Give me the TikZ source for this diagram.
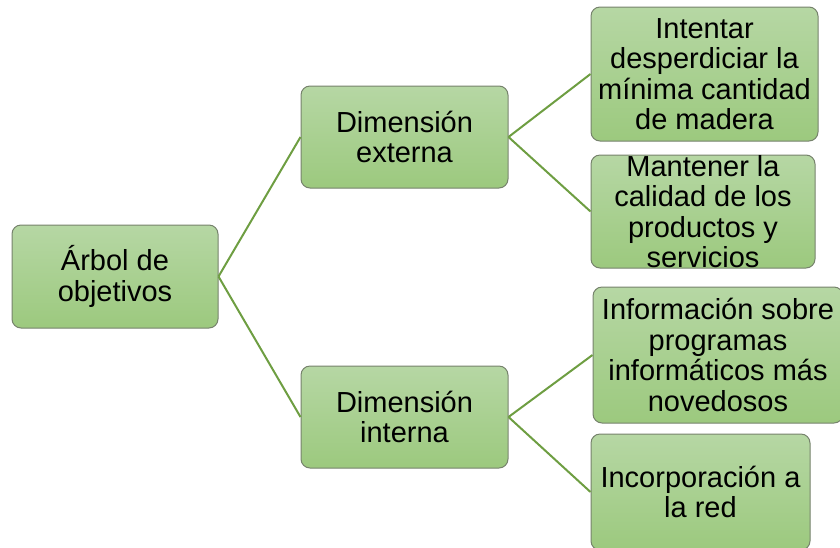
\documentclass[tikz,border=0pt]{standalone}
\usepackage{fontspec}
\setmainfont{Liberation Sans}
\definecolor{boxtop}{RGB}{182,215,164}
\definecolor{boxbot}{RGB}{156,201,126}
\definecolor{boxline}{RGB}{118,130,108}
\definecolor{link}{RGB}{110,158,66}
\begin{document}
\begin{tikzpicture}[x=1pt,y=-1pt,
  box/.style={rectangle, rounded corners=9pt, draw=boxline, line width=1pt,
    top color=boxtop, bottom color=boxbot, inner sep=0pt, align=center,
    font=\fontsize{29}{30.5}\selectfont},
  link/.style={draw=link, line width=2pt}]
\useasboundingbox (0,0) rectangle (840,547);
\clip (0,0) rectangle (840,547);
\node[box, minimum width=206pt, minimum height=103pt] (root) at (115,276.5) {Árbol de\\objetivos};
\node[box, minimum width=207pt, minimum height=102pt] (ext) at (404.5,137) {Dimensión\\externa};
\node[box, minimum width=207pt, minimum height=102pt] (int) at (404.5,417) {Dimensión\\interna};
\node[box, minimum width=227pt, minimum height=134pt] (l1) at (704.5,74) {Intentar\\desperdiciar la\\mínima cantidad\\de madera};
\node[box, minimum width=224pt, minimum height=113pt] (l2) at (703,211.5) {Mantener la\\calidad de los\\productos y\\servicios};
\node[box, minimum width=250pt, minimum height=136pt] (l3) at (718,355) {Información sobre\\programas\\informáticos más\\novedosos};
\node[box, minimum width=219pt, minimum height=116pt] (l4) at (700.5,492) {Incorporación a\\la red};
\draw[link] (root.east) -- (ext.west);
\draw[link] (root.east) -- (int.west);
\draw[link] (ext.east) -- (l1.west);
\draw[link] (ext.east) -- (l2.west);
\draw[link] (int.east) -- (l3.west);
\draw[link] (int.east) -- (l4.west);
\end{tikzpicture}
\end{document}
